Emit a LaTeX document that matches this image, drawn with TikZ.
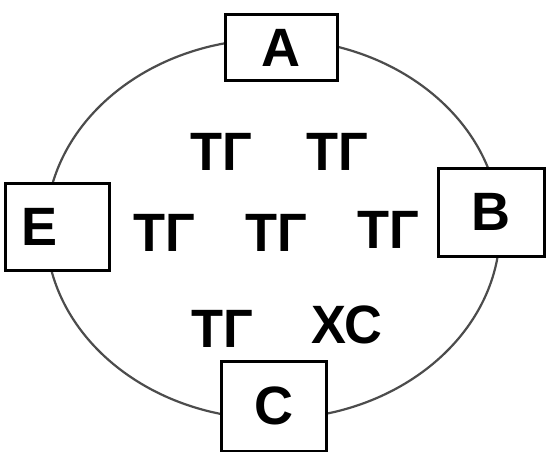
\documentclass[tikz,border=0pt]{standalone}
\usepackage{fontspec}
\setmainfont{Liberation Sans}
\newfontfamily\lblfont[FakeStretch=0.97]{Liberation Sans}
\begin{document}
\begin{tikzpicture}[x=1pt,y=-1pt,
  letterbox/.style={draw=black,line width=3pt,fill=white,inner sep=0pt,
    font=\fontsize{54}{54}\selectfont\bfseries},
  cell/.style={inner sep=0pt,font=\lblfont\fontsize{54}{54}\selectfont\bfseries}]
\useasboundingbox (0,0) rectangle (547,452);
\fill[white] (0,0) rectangle (547,452);
\draw[line width=2.2pt,black!70] (273,229) ellipse [x radius=227,y radius=190];
\node[letterbox,minimum width=112pt,minimum height=66pt] (A) at (281,48) {A};
\node[letterbox,minimum width=106pt,minimum height=88pt] (B) at (491,212) {B};
\node[letterbox,minimum width=104pt,minimum height=87pt,text width=88pt,align=left] (E) at (57,227) {\hspace*{8pt}E};
\node[letterbox,minimum width=105pt,minimum height=90pt] (C) at (274,406) {C};
\node[cell] (t1) at (221,152) {ТГ};
\node[cell] (t2) at (337,152) {ТГ};
\node[cell] (t3) at (164,233) {ТГ};
\node[cell] (t4) at (276,233) {ТГ};
\node[cell] (t5) at (388,230) {ТГ};
\node[cell] (t6) at (222,329) {ТГ};
\node[cell] (t7) at (347,325) {ХС};
\end{tikzpicture}
\end{document}
